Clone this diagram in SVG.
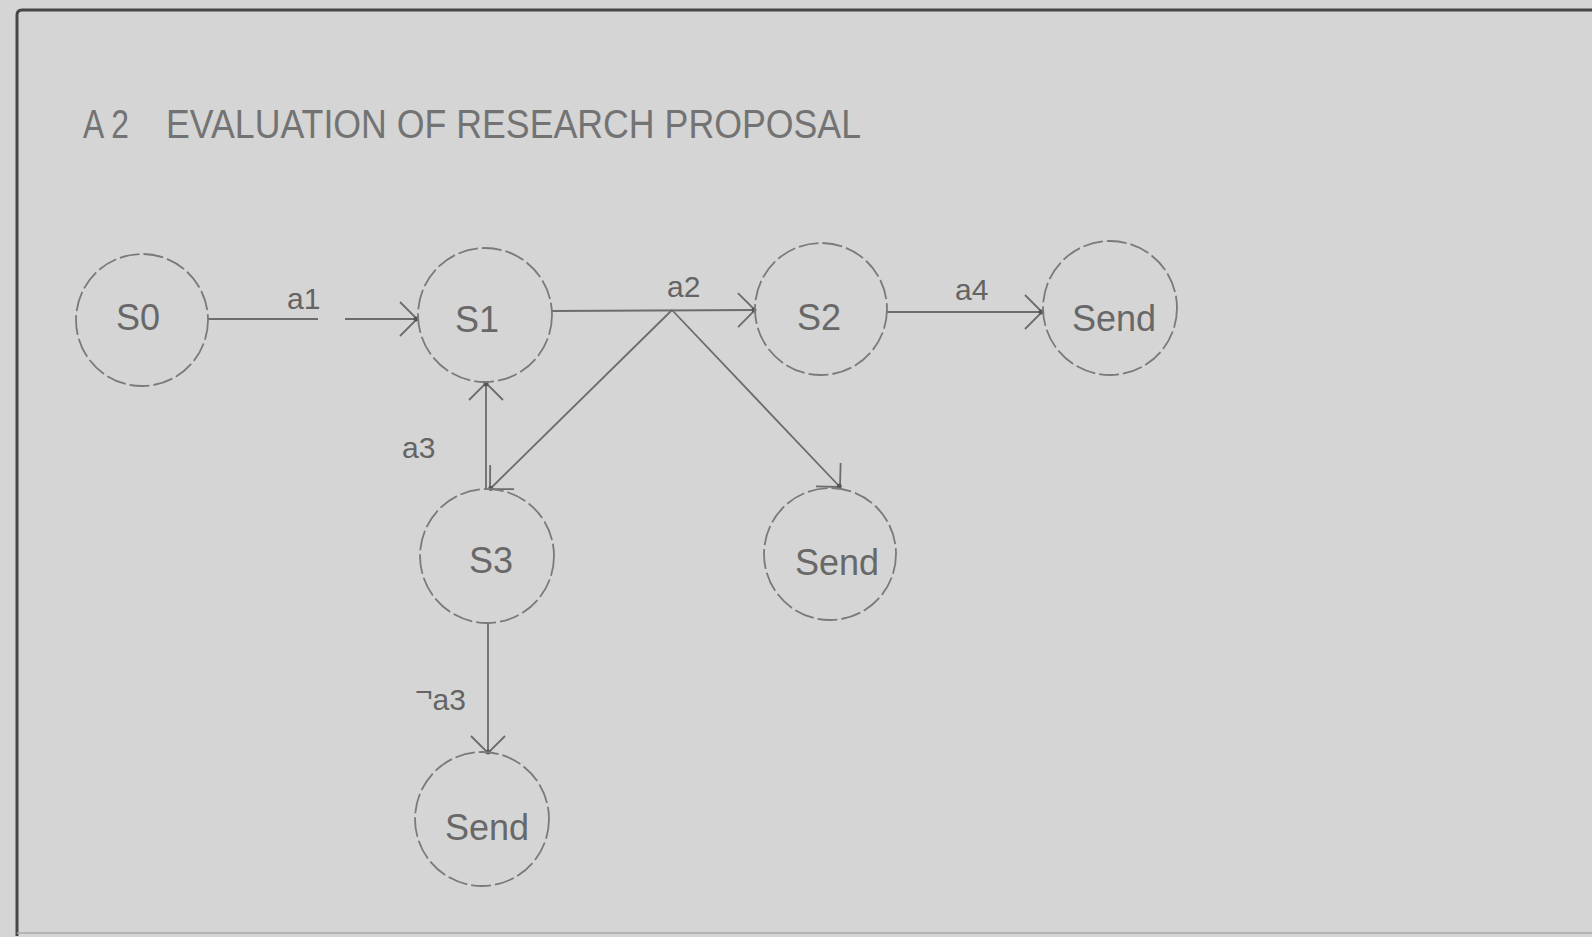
<svg xmlns="http://www.w3.org/2000/svg" width="1592" height="937" viewBox="0 0 1592 937">
  <defs>
    <style>
      .node circle { fill: none; stroke: #7a7a7a; stroke-width: 1.8; stroke-dasharray: 20 4; }
      .node text { font-family: "Liberation Sans", Arial, sans-serif; font-size: 36px; fill: #686868; text-anchor: middle; }
      .edge { fill: none; stroke: #6c6c6c; stroke-width: 1.8; }
      .elabel { font-family: "Liberation Sans", Arial, sans-serif; font-size: 30px; fill: #646464; }
      .title { font-family: "Liberation Sans", Arial, sans-serif; font-size: 40px; fill: #737373; }
    </style>
    <marker id="arr" markerUnits="userSpaceOnUse" viewBox="-20 -20 24 40" markerWidth="24" markerHeight="40" refX="0" refY="0" orient="auto">
      <path d="M-17,-17 L0,0 L-17,17" fill="none" stroke="#6c6c6c" stroke-width="1.8"/>
      <circle cx="-1" cy="0" r="2.5" fill="#555"/>
    </marker>
  </defs>

  <rect x="0" y="0" width="1592" height="937" fill="#d5d5d5"/>

  <g id="frame">
    <path d="M17,936 V15 Q17,10 22,10 H1592" fill="none" stroke="#474747" stroke-width="3"/>
    <line x1="17" y1="933" x2="1592" y2="933" stroke="#a8a8a8" stroke-width="1.5"/>
  </g>

  <text class="title" y="138"><tspan x="83" textLength="46" lengthAdjust="spacingAndGlyphs">A 2</tspan><tspan x="166" textLength="695" lengthAdjust="spacingAndGlyphs">EVALUATION OF RESEARCH PROPOSAL</tspan></text>

  <g id="connectors">
    <path class="edge" d="M208,319 H318 M345,319 H417" marker-end="url(#arr)"/>
    <path class="edge" d="M552,311 L755,310" marker-end="url(#arr)"/>
    <path class="edge" d="M672,310 L490,489" marker-end="url(#arr)"/>
    <path class="edge" d="M672,310 L840,487" marker-end="url(#arr)"/>
    <path class="edge" d="M486,489 L486,383" marker-end="url(#arr)"/>
    <path class="edge" d="M488,623 L488,753" marker-end="url(#arr)"/>
    <path class="edge" d="M887,312 L1042,312" marker-end="url(#arr)"/>
    <text class="elabel" x="287" y="309">a1</text>
    <text class="elabel" x="667" y="297">a2</text>
    <text class="elabel" x="955" y="300">a4</text>
    <text class="elabel" x="402" y="458">a3</text>
    <text class="elabel" x="415" y="710"><tspan dy="-8">¬</tspan><tspan dy="8">a3</tspan></text>
  </g>

  <g id="S0" class="node"><circle cx="142" cy="320" r="66"/><text x="138" y="330">S0</text></g>
  <g id="S1" class="node"><circle cx="485" cy="315" r="67"/><text x="477" y="332">S1</text></g>
  <g id="S2" class="node"><circle cx="821" cy="309" r="66"/><text x="819" y="330">S2</text></g>
  <g id="Send_right" class="node"><circle cx="1110" cy="308" r="67"/><text x="1114" y="331">Send</text></g>
  <g id="S3" class="node"><circle cx="487" cy="556" r="67"/><text x="491" y="573">S3</text></g>
  <g id="Send_middle" class="node"><circle cx="830" cy="554" r="66"/><text x="837" y="575">Send</text></g>
  <g id="Send_bottom" class="node"><circle cx="482" cy="819" r="67"/><text x="487" y="840">Send</text></g>
</svg>
